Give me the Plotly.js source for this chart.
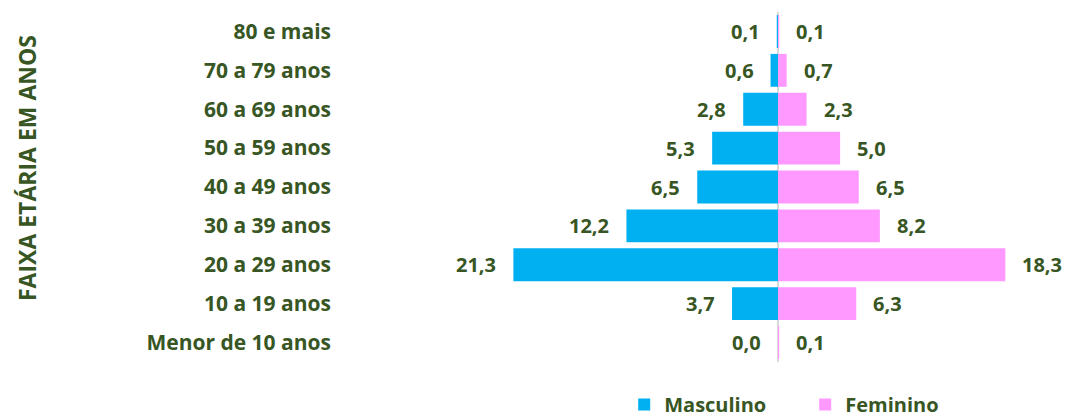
<!DOCTYPE html>
<html>
<head>
<meta charset="utf-8">
<script src="https://cdn.plot.ly/plotly-3.0.1.min.js"></script>
<style>html,body{margin:0;padding:0;background:#fff;}#chart{width:1068px;height:418px;}</style>
</head>
<body>
<div id="chart"></div>
<script>
const categories = ["80 e mais","70 a 79 anos","60 a 69 anos","50 a 59 anos","40 a 49 anos","30 a 39 anos","20 a 29 anos","10 a 19 anos","Menor de 10 anos"];
const masculino = [0.1, 0.6, 2.8, 5.3, 6.5, 12.2, 21.3, 3.7, 0.0];
const feminino = [0.1, 0.7, 2.3, 5.0, 6.5, 8.2, 18.3, 6.3, 0.1];
const seriesNames = ["Masculino", "Feminino"];
const axisTitle = "FAIXA ETÁRIA EM ANOS";

const green = "#375623";
const fontFam = "'Open Sans', 'Noto Sans', sans-serif";
const fmt = v => v.toFixed(1).replace(".", ",");

const traces = [
  {type: "bar", orientation: "h", name: seriesNames[0], y: categories, x: masculino.map(v => -v),
   marker: {color: "#00B0F0"}, hoverinfo: "skip"},
  {type: "bar", orientation: "h", name: seriesNames[1], y: categories, x: feminino,
   marker: {color: "#FF99FF"}, hoverinfo: "skip"}
];

const annotations = [];
categories.forEach((c, i) => {
  annotations.push({x: -masculino[i], y: c, xref: "x", yref: "y", text: fmt(masculino[i]), showarrow: false,
    xanchor: "right", xshift: -15, font: {family: fontFam, size: 20, color: green, weight: "bold"}});
  annotations.push({x: feminino[i], y: c, xref: "x", yref: "y", text: fmt(feminino[i]), showarrow: false,
    xanchor: "left", xshift: 15, font: {family: fontFam, size: 20, color: green, weight: "bold"}});
});
annotations.push({xref: "paper", yref: "paper", x: -0.419, y: 0.554, text: axisTitle, textangle: -90,
  showarrow: false, xanchor: "center", yanchor: "middle", font: {family: fontFam, size: 23, color: green, weight: "bold"}});

const layout = {
  width: 1068, height: 418,
  margin: {l: 332, r: 8, t: 12, b: 56},
  paper_bgcolor: "#fff", plot_bgcolor: "#fff",
  barmode: "relative", bargap: 0.154,
  showlegend: true,
  legend: {orientation: "h", x: 0.65, xanchor: "center", xref: "paper", y: 0.032, yref: "container", yanchor: "middle",
    entrywidth: 136, font: {family: fontFam, size: 20, color: green, weight: "bold"}, itemclick: false},
  xaxis: {range: [-35.9, 22.7], showgrid: false, showticklabels: false, ticks: "",
    zeroline: true, zerolinecolor: "#d9d9d9", zerolinewidth: 2, layer: "above traces", fixedrange: true},
  yaxis: {autorange: "reversed", type: "category", showgrid: false, zeroline: false, ticks: "",
    tickfont: {family: fontFam, size: 21, color: green, weight: "bold"}, fixedrange: true},
  annotations: annotations,
  font: {family: fontFam, color: green}
};

Plotly.newPlot("chart", traces, layout, {displayModeBar: false, staticPlot: true});
</script>
</body>
</html>
